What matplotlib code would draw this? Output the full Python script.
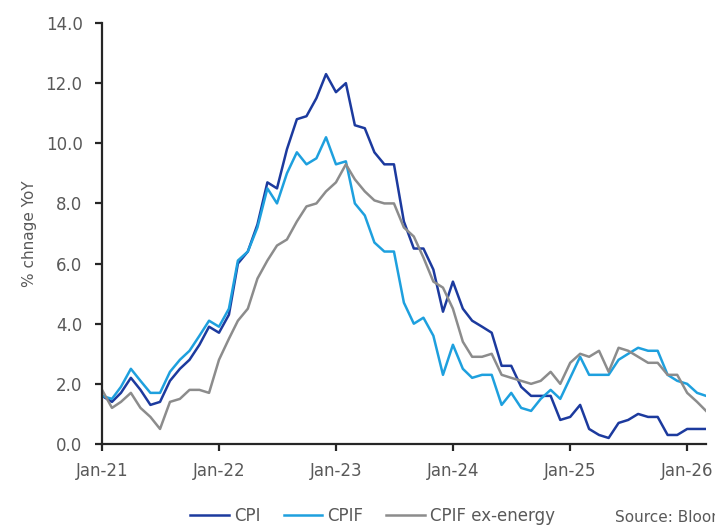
import matplotlib
matplotlib.use("Agg")
import matplotlib.pyplot as plt
import matplotlib.dates as mdates
import pandas as pd

# Monthly YoY inflation, Jan-21 to Mar-26
months = pd.date_range("2021-01-01", periods=63, freq="MS")

cpi = [1.6, 1.4, 1.7, 2.2, 1.8, 1.3, 1.4, 2.1, 2.5, 2.8, 3.3, 3.9,
       3.7, 4.3, 6.0, 6.4, 7.3, 8.7, 8.5, 9.8, 10.8, 10.9, 11.5, 12.3,
       11.7, 12.0, 10.6, 10.5, 9.7, 9.3, 9.3, 7.4, 6.5, 6.5, 5.8, 4.4,
       5.4, 4.5, 4.1, 3.9, 3.7, 2.6, 2.6, 1.9, 1.6, 1.6, 1.6, 0.8,
       0.9, 1.3, 0.5, 0.3, 0.2, 0.7, 0.8, 1.0, 0.9, 0.9, 0.3, 0.3,
       0.5, 0.5, 0.5]

cpif = [1.6, 1.5, 1.9, 2.5, 2.1, 1.7, 1.7, 2.4, 2.8, 3.1, 3.6, 4.1,
        3.9, 4.5, 6.1, 6.4, 7.2, 8.5, 8.0, 9.0, 9.7, 9.3, 9.5, 10.2,
        9.3, 9.4, 8.0, 7.6, 6.7, 6.4, 6.4, 4.7, 4.0, 4.2, 3.6, 2.3,
        3.3, 2.5, 2.2, 2.3, 2.3, 1.3, 1.7, 1.2, 1.1, 1.5, 1.8, 1.5,
        2.2, 2.9, 2.3, 2.3, 2.3, 2.8, 3.0, 3.2, 3.1, 3.1, 2.3, 2.1,
        2.0, 1.7, 1.6]

cpif_ex_energy = [1.8, 1.2, 1.4, 1.7, 1.2, 0.9, 0.5, 1.4, 1.5, 1.8, 1.8, 1.7,
                  2.8, 3.5, 4.1, 4.5, 5.5, 6.1, 6.6, 6.8, 7.4, 7.9, 8.0, 8.4,
                  8.7, 9.3, 8.8, 8.4, 8.1, 8.0, 8.0, 7.2, 6.9, 6.2, 5.4, 5.2,
                  4.5, 3.4, 2.9, 2.9, 3.0, 2.3, 2.2, 2.1, 2.0, 2.1, 2.4, 2.0,
                  2.7, 3.0, 2.9, 3.1, 2.4, 3.2, 3.1, 2.9, 2.7, 2.7, 2.3, 2.3,
                  1.7, 1.4, 1.1]

plt.rcParams["font.family"] = ["Liberation Sans Narrow", "DejaVu Sans"]
text_grey = "#595959"

fig = plt.figure(figsize=(7.15, 5.25), dpi=100)
ax = fig.add_axes([0.1427, 0.1543, 0.8448, 0.8019])

ax.plot(months, cpi, color="#1c3a9e", lw=1.8, label="CPI")
ax.plot(months, cpif, color="#1ea0de", lw=1.8, label="CPIF")
ax.plot(months, cpif_ex_energy, color="#8c8c8c", lw=1.8, label="CPIF ex-energy")

ax.set_ylim(0, 14)
ax.set_yticks([0, 2, 4, 6, 8, 10, 12, 14])
ax.yaxis.set_major_formatter(plt.FormatStrFormatter("%.1f"))
ax.set_xlim(months[0], months[-1])
ax.xaxis.set_major_locator(mdates.YearLocator())
ax.xaxis.set_major_formatter(mdates.DateFormatter("%b-%y"))

for side in ["top", "right"]:
    ax.spines[side].set_visible(False)
for side in ["left", "bottom"]:
    ax.spines[side].set_linewidth(1.6)
    ax.spines[side].set_color("#262626")

ax.tick_params(axis="both", direction="out", length=5, width=1.6, color="#262626",
               labelsize=12, labelcolor=text_grey)
ax.tick_params(axis="x", pad=8)
ax.tick_params(axis="y", pad=9)
ax.set_ylabel("% chnage YoY", fontsize=11, color=text_grey, labelpad=6)

fig.legend(loc="lower center", bbox_to_anchor=(0.521, -0.029), ncol=3, frameon=False,
           fontsize=12, handlelength=2.3, handletextpad=0.3, columnspacing=1.4,
           labelcolor=text_grey)
fig.text(0.86, 0.005, "Source: Bloomberg", fontsize=11, color=text_grey)

fig.savefig("out.png", dpi=100)
